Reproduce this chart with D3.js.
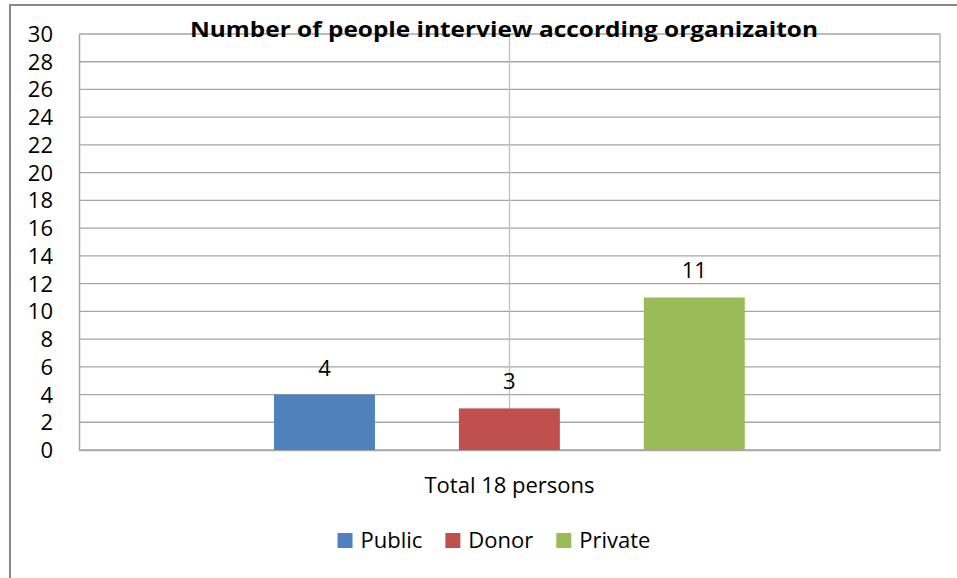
<!DOCTYPE html>
<html>
<head>
<meta charset="utf-8">
<script src="https://cdn.jsdelivr.net/npm/d3@7"></script>
<style>
  body { margin: 0; background: #fff; }
  text { font-family: "Open Sans", "Noto Sans", sans-serif; fill: #000; }
</style>
</head>
<body>
<div id="chart"></div>
<script>
/* DATA */
const categories = ["Total 18 persons"];
const series = ["Public", "Donor", "Private"];
const values = [4, 3, 11];
const colors = ["#4F81BD", "#C0504D", "#9BBB59"];
const yTicks = d3.range(0, 31, 2);
const title = "Number of people interview according organizaiton";

/* LAYOUT */
const width = 957,
  height = 578,
  margin = { top: 34, bottom: 128, left: 79, right: 17 };

const svg = d3.select("#chart")
  .append("svg")
  .attr("width", width)
  .attr("height", height);

// outer chart frame (only top and left edges visible)
svg.append("path")
  .attr("d", `M10,${height} V5 H${width}`)
  .attr("fill", "none")
  .attr("stroke", "#888")
  .attr("stroke-width", 2);

// SCALES
const xScale = d3.scaleBand()
  .domain(categories)
  .range([margin.left, width - margin.right]);

const inner = d3.scaleBand()
  .domain(series)
  .range([xScale.bandwidth() * 0.1777, xScale.bandwidth() * 0.822])
  .paddingInner(0.454)
  .paddingOuter(0.227);

const yScale = d3.scaleLinear()
  .domain([0, 30])
  .range([height - margin.bottom, margin.top]);

// gridlines
svg.append("g")
  .selectAll("line")
  .data(yTicks)
  .join("line")
  .attr("x1", margin.left)
  .attr("x2", width - margin.right)
  .attr("y1", d => yScale(d))
  .attr("y2", d => yScale(d))
  .attr("stroke", "#a6a6a6")
  .attr("stroke-width", 1.3);

// vertical gridline in the middle of the category
svg.append("line")
  .attr("x1", xScale(categories[0]) + xScale.bandwidth() / 2)
  .attr("x2", xScale(categories[0]) + xScale.bandwidth() / 2)
  .attr("y1", yScale(30))
  .attr("y2", yScale(0))
  .attr("stroke", "#bfbfbf")
  .attr("stroke-width", 1.3);

// right border of plot area
svg.append("line")
  .attr("x1", width - margin.right)
  .attr("x2", width - margin.right)
  .attr("y1", yScale(30))
  .attr("y2", yScale(0))
  .attr("stroke", "#a6a6a6")
  .attr("stroke-width", 1.3);

// + AXES
const yAxis = d3.axisLeft(yScale).tickValues(yTicks).tickSize(0).tickPadding(26);
svg.append("g")
  .attr("class", "y-axis")
  .attr("transform", `translate(${margin.left},0)`)
  .call(yAxis)
  .call(g => g.select(".domain").attr("stroke", "#a6a6a6").attr("stroke-width", 1.5))
  .call(g => g.selectAll("text")
    .attr("font-size", "22px")
    .attr("font-family", "'Open Sans', sans-serif")
    .attr("fill", "#000")
    .attr("dy", "0.34em"));

const xAxis = d3.axisBottom(xScale).tickSize(0).tickPadding(27);
svg.append("g")
  .attr("class", "x-axis")
  .attr("transform", `translate(0,${yScale(0)})`)
  .call(xAxis)
  .call(g => g.select(".domain").attr("stroke", "#a6a6a6").attr("stroke-width", 1.5))
  .call(g => g.selectAll("text")
    .attr("font-size", "22px")
    .attr("font-family", "'Open Sans', sans-serif")
    .attr("fill", "#000"));

// + BARS
const group = svg.append("g")
  .attr("transform", `translate(${xScale(categories[0])},0)`);

group.selectAll("rect")
  .data(series)
  .join("rect")
  .attr("x", d => inner(d))
  .attr("width", inner.bandwidth())
  .attr("y", (d, i) => yScale(values[i]))
  .attr("height", (d, i) => yScale(0) - yScale(values[i]))
  .attr("fill", (d, i) => colors[i]);

group.selectAll("text.label")
  .data(series)
  .join("text")
  .attr("class", "label")
  .attr("x", d => inner(d) + inner.bandwidth() / 2)
  .attr("y", (d, i) => yScale(values[i]) - 19)
  .attr("text-anchor", "middle")
  .attr("font-size", "22px")
  .text((d, i) => values[i]);

// + TITLE
svg.append("text")
  .attr("x", 504)
  .attr("y", 37)
  .attr("text-anchor", "middle")
  .attr("font-size", "22px")
  .attr("font-weight", "bold")
  .attr("textLength", 628)
  .attr("lengthAdjust", "spacingAndGlyphs")
  .text(title);

// + LEGEND
const legend = svg.append("g");
const items = legend.selectAll("g")
  .data(series)
  .join("g");
items.append("rect")
  .attr("width", 15)
  .attr("height", 15)
  .attr("y", -15)
  .attr("fill", (d, i) => colors[i]);
items.append("text")
  .attr("x", 23)
  .attr("font-size", "22px")
  .text(d => d);

let offset = 0;
items.each(function () {
  const w = d3.select(this).select("text").node().getComputedTextLength();
  d3.select(this).attr("transform", `translate(${offset},0)`);
  offset += 23 + w + 23;
});
const legendWidth = offset - 23;
legend.attr("transform", `translate(${494 - legendWidth / 2},548)`);
</script>
</body>
</html>
